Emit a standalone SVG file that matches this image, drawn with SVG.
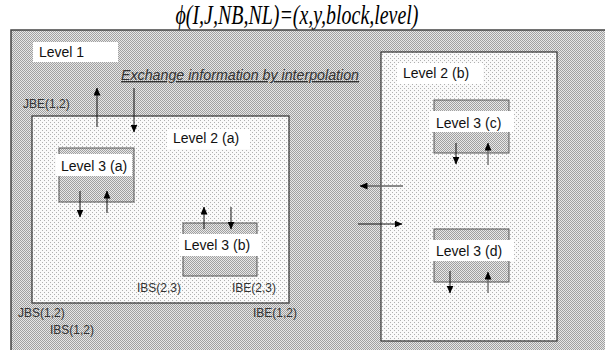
<svg xmlns="http://www.w3.org/2000/svg" width="605" height="350" viewBox="0 0 605 350">
<defs>
<pattern id="p1" width="2" height="2" patternUnits="userSpaceOnUse">
<rect width="2" height="2" fill="#e6e6e6"/>
<rect x="0" y="0" width="1" height="1" fill="#a0a0a0"/>
<rect x="1" y="1" width="1" height="1" fill="#a0a0a0"/>
</pattern>
<pattern id="p2" width="4" height="4" patternUnits="userSpaceOnUse">
<rect width="4" height="4" fill="#fafafa"/>
<rect x="0" y="0" width="1" height="1" fill="#b0b0b0"/>
<rect x="2" y="2" width="1" height="1" fill="#b0b0b0"/>
</pattern>
<pattern id="p3" width="2" height="2" patternUnits="userSpaceOnUse">
<rect width="2" height="2" fill="#e8e8e8"/>
<rect x="0" y="0" width="1" height="1" fill="#a0a0a0"/>
<rect x="1" y="1" width="1" height="1" fill="#a0a0a0"/>
</pattern>
<marker id="ah" markerWidth="8" markerHeight="7" refX="7.5" refY="3.5" orient="auto" markerUnits="userSpaceOnUse">
<path d="M0,0 L8,3.5 L0,7 z" fill="#000"/>
</marker>
<style>
.lbl{font-family:"Liberation Sans",Arial,sans-serif;font-size:14px;fill:#111}
.sm{font-family:"Liberation Sans",Arial,sans-serif;font-size:12px;fill:#333}
.band{fill:#fff}
.l2{fill:url(#p2);stroke:#333;stroke-width:1.2}
.l3{fill:url(#p3);stroke:#555;stroke-width:1}
.arr{stroke:#111;stroke-width:1;fill:none;marker-end:url(#ah)}
.arrg{stroke:#666;stroke-width:1.3;fill:none;marker-end:url(#ah)}
</style>
</defs>
<rect width="605" height="350" fill="#fff"/>
<text x="297" y="24" text-anchor="middle" font-family="'Liberation Serif','Times New Roman',serif" font-style="italic" font-size="27" textLength="243" lengthAdjust="spacingAndGlyphs" fill="#000">ϕ(I,J,NB,NL)=(x,y,block,level)</text>

<g id="level1">
<rect x="11" y="30" width="600" height="330" fill="url(#p1)" stroke="#444" stroke-width="1.5"/>
<rect class="band" x="33" y="42" width="85" height="20"/>
<text class="lbl" x="39" y="57">Level 1</text>
<text x="121" y="80" font-family="'Liberation Sans',Arial,sans-serif" font-size="14" font-style="italic" text-decoration="underline" textLength="238" lengthAdjust="spacingAndGlyphs" fill="#333">Exchange information by interpolation</text>
<text class="sm" x="23" y="108">JBE(1,2)</text>
<text class="sm" x="18" y="317">JBS(1,2)</text>
<text class="sm" x="253" y="317">IBE(1,2)</text>
<text class="sm" x="50" y="334">IBS(1,2)</text>
</g>

<g id="level2a">
<rect class="l2" x="32" y="116" width="257" height="187"/>
<rect class="band" x="167" y="129" width="83" height="20"/>
<text class="lbl" x="173" y="143">Level 2 (a)</text>
<text class="sm" x="137" y="292">IBS(2,3)</text>
<text class="sm" x="232" y="292">IBE(2,3)</text>
</g>

<g id="level3a">
<rect class="l3" x="59" y="148" width="75" height="54"/>
<rect class="band" x="56" y="154" width="76" height="22"/>
<text class="lbl" x="61" y="171">Level 3 (a)</text>
</g>

<g id="level3b">
<rect class="l3" x="183" y="223" width="74" height="53"/>
<rect class="band" x="179" y="234" width="82" height="22"/>
<text class="lbl" x="184" y="250">Level 3 (b)</text>
</g>

<g id="level2b">
<rect class="l2" x="381" y="52" width="176" height="289"/>
<rect class="band" x="397" y="63" width="86" height="21"/>
<text class="lbl" x="403" y="78">Level 2 (b)</text>
</g>

<g id="level3c">
<rect class="l3" x="434" y="100" width="75" height="53"/>
<rect class="band" x="429" y="111" width="85" height="21"/>
<text class="lbl" x="436" y="128">Level 3 (c)</text>
</g>

<g id="level3d">
<rect class="l3" x="434" y="229" width="75" height="53"/>
<rect class="band" x="429" y="240" width="85" height="21"/>
<text class="lbl" x="436" y="256">Level 3 (d)</text>
</g>

<g id="connectors">
<line class="arr" x1="97" y1="127" x2="97" y2="88"/>
<line class="arr" x1="134" y1="88" x2="134" y2="132"/>
<line class="arr" x1="80" y1="191" x2="80" y2="217"/>
<line class="arr" x1="107" y1="213" x2="107" y2="191"/>
<line class="arr" x1="204" y1="229" x2="204" y2="207"/>
<line class="arr" x1="231" y1="207" x2="231" y2="229"/>
<line class="arr" x1="456" y1="143" x2="456" y2="164"/>
<line class="arrg" x1="488" y1="165" x2="488" y2="143"/>
<line class="arrg" x1="403" y1="186" x2="360" y2="186"/>
<line class="arr" x1="358" y1="224" x2="402" y2="224"/>
<line class="arr" x1="450" y1="271" x2="450" y2="293"/>
<line class="arrg" x1="488" y1="293" x2="488" y2="272"/>
</g>
</svg>
